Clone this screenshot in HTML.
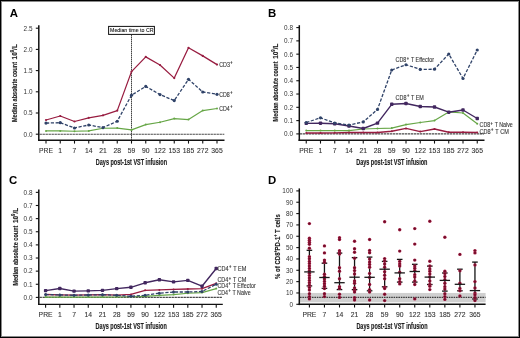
<!DOCTYPE html><html><head><meta charset="utf-8"><style>html,body{margin:0;padding:0;background:#fff}svg{display:block;will-change:transform}text{font-family:"Liberation Sans", sans-serif}</style></head><body>
<svg width="520" height="338" viewBox="0 0 520 338">
<defs><radialGradient id="dg"><stop offset="0" stop-color="#5e0a22"/><stop offset="0.6" stop-color="#861333"/><stop offset="1" stop-color="#ad2149"/></radialGradient></defs>
<rect x="0" y="0" width="520" height="338" fill="#fff"/>
<text x="9.7" y="17.2" font-size="11.4" text-anchor="start" fill="#000" font-weight="bold">A</text>
<text x="267.9" y="17.2" font-size="11.4" text-anchor="start" fill="#000" font-weight="bold">B</text>
<text x="9" y="184" font-size="11.4" text-anchor="start" fill="#000" font-weight="bold">C</text>
<text x="267.9" y="184" font-size="11.4" text-anchor="start" fill="#000" font-weight="bold">D</text>
<line x1="39.5" y1="134.2" x2="224.3" y2="134.2" stroke="#4a4a4a" stroke-width="1.1" stroke-dasharray="2.4 0.6"/>
<line x1="38.8" y1="25.3" x2="38.8" y2="140.9" stroke="#111" stroke-width="1.5"/>
<line x1="38.05" y1="140.2" x2="224.5" y2="140.2" stroke="#111" stroke-width="1.4"/>
<line x1="35.8" y1="134.2" x2="38.8" y2="134.2" stroke="#111" stroke-width="1.1"/>
<text x="32.5" y="136.55" font-size="6.4" text-anchor="end" fill="#333" font-weight="normal">0.0</text>
<line x1="35.8" y1="113" x2="38.8" y2="113" stroke="#111" stroke-width="1.1"/>
<text x="32.5" y="115.35" font-size="6.4" text-anchor="end" fill="#333" font-weight="normal">0.5</text>
<line x1="35.8" y1="91.8" x2="38.8" y2="91.8" stroke="#111" stroke-width="1.1"/>
<text x="32.5" y="94.15" font-size="6.4" text-anchor="end" fill="#333" font-weight="normal">1.0</text>
<line x1="35.8" y1="70.6" x2="38.8" y2="70.6" stroke="#111" stroke-width="1.1"/>
<text x="32.5" y="72.95" font-size="6.4" text-anchor="end" fill="#333" font-weight="normal">1.5</text>
<line x1="35.8" y1="49.4" x2="38.8" y2="49.4" stroke="#111" stroke-width="1.1"/>
<text x="32.5" y="51.75" font-size="6.4" text-anchor="end" fill="#333" font-weight="normal">2.0</text>
<line x1="35.8" y1="28.2" x2="38.8" y2="28.2" stroke="#111" stroke-width="1.1"/>
<text x="32.5" y="30.55" font-size="6.4" text-anchor="end" fill="#333" font-weight="normal">2.5</text>
<line x1="46" y1="140.2" x2="46" y2="143.6" stroke="#111" stroke-width="1.1"/>
<text x="46" y="152.9" font-size="6.8" text-anchor="middle" fill="#333" font-weight="normal" stroke="#333" stroke-width="0.1">PRE</text>
<line x1="60.25" y1="140.2" x2="60.25" y2="143.6" stroke="#111" stroke-width="1.1"/>
<text x="60.25" y="152.9" font-size="6.8" text-anchor="middle" fill="#333" font-weight="normal" stroke="#333" stroke-width="0.1">1</text>
<line x1="74.5" y1="140.2" x2="74.5" y2="143.6" stroke="#111" stroke-width="1.1"/>
<text x="74.5" y="152.9" font-size="6.8" text-anchor="middle" fill="#333" font-weight="normal" stroke="#333" stroke-width="0.1">7</text>
<line x1="88.75" y1="140.2" x2="88.75" y2="143.6" stroke="#111" stroke-width="1.1"/>
<text x="88.75" y="152.9" font-size="6.8" text-anchor="middle" fill="#333" font-weight="normal" stroke="#333" stroke-width="0.1">14</text>
<line x1="103" y1="140.2" x2="103" y2="143.6" stroke="#111" stroke-width="1.1"/>
<text x="103" y="152.9" font-size="6.8" text-anchor="middle" fill="#333" font-weight="normal" stroke="#333" stroke-width="0.1">21</text>
<line x1="117.25" y1="140.2" x2="117.25" y2="143.6" stroke="#111" stroke-width="1.1"/>
<text x="117.25" y="152.9" font-size="6.8" text-anchor="middle" fill="#333" font-weight="normal" stroke="#333" stroke-width="0.1">28</text>
<line x1="131.5" y1="140.2" x2="131.5" y2="143.6" stroke="#111" stroke-width="1.1"/>
<text x="131.5" y="152.9" font-size="6.8" text-anchor="middle" fill="#333" font-weight="normal" stroke="#333" stroke-width="0.1">59</text>
<line x1="145.75" y1="140.2" x2="145.75" y2="143.6" stroke="#111" stroke-width="1.1"/>
<text x="145.75" y="152.9" font-size="6.8" text-anchor="middle" fill="#333" font-weight="normal" stroke="#333" stroke-width="0.1">90</text>
<line x1="160" y1="140.2" x2="160" y2="143.6" stroke="#111" stroke-width="1.1"/>
<text x="160" y="152.9" font-size="6.8" text-anchor="middle" fill="#333" font-weight="normal" stroke="#333" stroke-width="0.1">122</text>
<line x1="174.25" y1="140.2" x2="174.25" y2="143.6" stroke="#111" stroke-width="1.1"/>
<text x="174.25" y="152.9" font-size="6.8" text-anchor="middle" fill="#333" font-weight="normal" stroke="#333" stroke-width="0.1">153</text>
<line x1="188.5" y1="140.2" x2="188.5" y2="143.6" stroke="#111" stroke-width="1.1"/>
<text x="188.5" y="152.9" font-size="6.8" text-anchor="middle" fill="#333" font-weight="normal" stroke="#333" stroke-width="0.1">185</text>
<line x1="202.75" y1="140.2" x2="202.75" y2="143.6" stroke="#111" stroke-width="1.1"/>
<text x="202.75" y="152.9" font-size="6.8" text-anchor="middle" fill="#333" font-weight="normal" stroke="#333" stroke-width="0.1">272</text>
<line x1="217" y1="140.2" x2="217" y2="143.6" stroke="#111" stroke-width="1.1"/>
<text x="217" y="152.9" font-size="6.8" text-anchor="middle" fill="#333" font-weight="normal" stroke="#333" stroke-width="0.1">365</text>
<text x="95.8" y="164.8" font-size="8.6" text-anchor="start" fill="#1c1c1c" font-weight="bold" textLength="71.2" lengthAdjust="spacingAndGlyphs" stroke="#1c1c1c" stroke-width="0.15">Days post-1st VST infusion</text>
<text transform="translate(17.4,122) rotate(-90)" x="0" y="0" font-size="7.3" fill="#1c1c1c" font-weight="bold" textLength="60" lengthAdjust="spacingAndGlyphs" stroke="#1c1c1c" stroke-width="0.15">Median absolute count</text>
<text transform="translate(17.4,59.4) rotate(-90)" x="0" y="0" font-size="7.3" fill="#1c1c1c" font-weight="bold" textLength="15.2" lengthAdjust="spacingAndGlyphs" stroke="#1c1c1c" stroke-width="0.15">10<tspan font-size="5" dy="-3">9</tspan><tspan dy="3">/L</tspan></text>
<line x1="131.5" y1="34.5" x2="131.5" y2="140.5" stroke="#3a3a3a" stroke-width="0.95" stroke-dasharray="1.5 0.5"/>
<rect x="108.6" y="26.4" width="45.8" height="8" fill="#fff" stroke="#111" stroke-width="1"/>
<text x="110" y="31.9" font-size="5.9" text-anchor="start" fill="#1c1c1c" font-weight="normal" textLength="43.5" lengthAdjust="spacingAndGlyphs" stroke="#1c1c1c" stroke-width="0.12">Median time to CR</text>
<polyline points="46,130.9 60.25,130.9 74.5,131.2 88.75,130.9 103,128.3 117.25,128.1 131.5,129.9 145.75,124.6 160,122.3 174.25,118.6 188.5,119.6 202.75,110.6 217,108.5" fill="none" stroke="#66a646" stroke-width="1.15" stroke-linejoin="round"/>
<circle cx="46" cy="130.9" r="1.0" fill="#66a646"/>
<circle cx="60.25" cy="130.9" r="1.0" fill="#66a646"/>
<circle cx="74.5" cy="131.2" r="1.0" fill="#66a646"/>
<circle cx="88.75" cy="130.9" r="1.0" fill="#66a646"/>
<circle cx="103" cy="128.3" r="1.0" fill="#66a646"/>
<circle cx="117.25" cy="128.1" r="1.0" fill="#66a646"/>
<circle cx="131.5" cy="129.9" r="1.0" fill="#66a646"/>
<circle cx="145.75" cy="124.6" r="1.0" fill="#66a646"/>
<circle cx="160" cy="122.3" r="1.0" fill="#66a646"/>
<circle cx="174.25" cy="118.6" r="1.0" fill="#66a646"/>
<circle cx="188.5" cy="119.6" r="1.0" fill="#66a646"/>
<circle cx="202.75" cy="110.6" r="1.0" fill="#66a646"/>
<circle cx="217" cy="108.5" r="1.0" fill="#66a646"/>
<polyline points="46,120 60.25,116 74.5,121.5 88.75,117.8 103,115.3 117.25,110.6 131.5,71.6 145.75,56.9 160,65 174.25,78.1 188.5,47.8 202.75,55.9 217,64.6" fill="none" stroke="#981c40" stroke-width="1.25" stroke-linejoin="round"/>
<circle cx="46" cy="120" r="1.1" fill="#981c40"/>
<circle cx="60.25" cy="116" r="1.1" fill="#981c40"/>
<circle cx="74.5" cy="121.5" r="1.1" fill="#981c40"/>
<circle cx="88.75" cy="117.8" r="1.1" fill="#981c40"/>
<circle cx="103" cy="115.3" r="1.1" fill="#981c40"/>
<circle cx="117.25" cy="110.6" r="1.1" fill="#981c40"/>
<circle cx="131.5" cy="71.6" r="1.1" fill="#981c40"/>
<circle cx="145.75" cy="56.9" r="1.1" fill="#981c40"/>
<circle cx="160" cy="65" r="1.1" fill="#981c40"/>
<circle cx="174.25" cy="78.1" r="1.1" fill="#981c40"/>
<circle cx="188.5" cy="47.8" r="1.1" fill="#981c40"/>
<circle cx="202.75" cy="55.9" r="1.1" fill="#981c40"/>
<circle cx="217" cy="64.6" r="1.1" fill="#981c40"/>
<polyline points="46,123.1 60.25,122.7 74.5,128 88.75,125 103,127.6 117.25,121.25 131.5,95.2 145.75,86.4 160,94.6 174.25,100.6 188.5,79.3 202.75,92 217,94.3" fill="none" stroke="#2f4268" stroke-width="1.3" stroke-linejoin="round" stroke-dasharray="3.2 1.6"/>
<circle cx="46" cy="123.1" r="1.6" fill="#2f4268"/>
<circle cx="60.25" cy="122.7" r="1.6" fill="#2f4268"/>
<circle cx="74.5" cy="128" r="1.6" fill="#2f4268"/>
<circle cx="88.75" cy="125" r="1.6" fill="#2f4268"/>
<circle cx="103" cy="127.6" r="1.6" fill="#2f4268"/>
<circle cx="117.25" cy="121.25" r="1.6" fill="#2f4268"/>
<circle cx="131.5" cy="95.2" r="1.6" fill="#2f4268"/>
<circle cx="145.75" cy="86.4" r="1.6" fill="#2f4268"/>
<circle cx="160" cy="94.6" r="1.6" fill="#2f4268"/>
<circle cx="174.25" cy="100.6" r="1.6" fill="#2f4268"/>
<circle cx="188.5" cy="79.3" r="1.6" fill="#2f4268"/>
<circle cx="202.75" cy="92" r="1.6" fill="#2f4268"/>
<circle cx="217" cy="94.3" r="1.6" fill="#2f4268"/>
<text x="219.2" y="66.7" font-size="6.3" text-anchor="start" fill="#333" font-weight="normal" textLength="13.4" lengthAdjust="spacingAndGlyphs" stroke="#333" stroke-width="0.1">CD3<tspan font-size="4.6" dy="-2.7" dx="0.5" font-weight="bold">+</tspan><tspan dy="2.7" dx="0.5"></tspan></text>
<text x="219.2" y="96.6" font-size="6.3" text-anchor="start" fill="#333" font-weight="normal" textLength="13.2" lengthAdjust="spacingAndGlyphs" stroke="#333" stroke-width="0.1">CD8<tspan font-size="4.6" dy="-2.7" dx="0.5" font-weight="bold">+</tspan><tspan dy="2.7" dx="0.5"></tspan></text>
<text x="219.2" y="110.8" font-size="6.3" text-anchor="start" fill="#333" font-weight="normal" textLength="13.2" lengthAdjust="spacingAndGlyphs" stroke="#333" stroke-width="0.1">CD4<tspan font-size="4.6" dy="-2.7" dx="0.5" font-weight="bold">+</tspan><tspan dy="2.7" dx="0.5"></tspan></text>
<line x1="300" y1="133.9" x2="484" y2="133.9" stroke="#4a4a4a" stroke-width="1.1" stroke-dasharray="2.4 0.6"/>
<line x1="299.3" y1="25.2" x2="299.3" y2="140.9" stroke="#111" stroke-width="1.5"/>
<line x1="298.55" y1="140.2" x2="484.5" y2="140.2" stroke="#111" stroke-width="1.4"/>
<line x1="296.3" y1="133.9" x2="299.3" y2="133.9" stroke="#111" stroke-width="1.1"/>
<text x="293" y="136.25" font-size="6.4" text-anchor="end" fill="#333" font-weight="normal">0.0</text>
<line x1="296.3" y1="120.61" x2="299.3" y2="120.61" stroke="#111" stroke-width="1.1"/>
<text x="293" y="122.96" font-size="6.4" text-anchor="end" fill="#333" font-weight="normal">0.1</text>
<line x1="296.3" y1="107.32" x2="299.3" y2="107.32" stroke="#111" stroke-width="1.1"/>
<text x="293" y="109.67" font-size="6.4" text-anchor="end" fill="#333" font-weight="normal">0.2</text>
<line x1="296.3" y1="94.03" x2="299.3" y2="94.03" stroke="#111" stroke-width="1.1"/>
<text x="293" y="96.38" font-size="6.4" text-anchor="end" fill="#333" font-weight="normal">0.3</text>
<line x1="296.3" y1="80.74" x2="299.3" y2="80.74" stroke="#111" stroke-width="1.1"/>
<text x="293" y="83.09" font-size="6.4" text-anchor="end" fill="#333" font-weight="normal">0.4</text>
<line x1="296.3" y1="67.45" x2="299.3" y2="67.45" stroke="#111" stroke-width="1.1"/>
<text x="293" y="69.8" font-size="6.4" text-anchor="end" fill="#333" font-weight="normal">0.5</text>
<line x1="296.3" y1="54.16" x2="299.3" y2="54.16" stroke="#111" stroke-width="1.1"/>
<text x="293" y="56.51" font-size="6.4" text-anchor="end" fill="#333" font-weight="normal">0.6</text>
<line x1="296.3" y1="40.87" x2="299.3" y2="40.87" stroke="#111" stroke-width="1.1"/>
<text x="293" y="43.22" font-size="6.4" text-anchor="end" fill="#333" font-weight="normal">0.7</text>
<line x1="296.3" y1="27.58" x2="299.3" y2="27.58" stroke="#111" stroke-width="1.1"/>
<text x="293" y="29.93" font-size="6.4" text-anchor="end" fill="#333" font-weight="normal">0.8</text>
<line x1="306.25" y1="140.2" x2="306.25" y2="143.6" stroke="#111" stroke-width="1.1"/>
<text x="306.25" y="153.2" font-size="6.8" text-anchor="middle" fill="#333" font-weight="normal" stroke="#333" stroke-width="0.1">PRE</text>
<line x1="320.5" y1="140.2" x2="320.5" y2="143.6" stroke="#111" stroke-width="1.1"/>
<text x="320.5" y="153.2" font-size="6.8" text-anchor="middle" fill="#333" font-weight="normal" stroke="#333" stroke-width="0.1">1</text>
<line x1="334.75" y1="140.2" x2="334.75" y2="143.6" stroke="#111" stroke-width="1.1"/>
<text x="334.75" y="153.2" font-size="6.8" text-anchor="middle" fill="#333" font-weight="normal" stroke="#333" stroke-width="0.1">7</text>
<line x1="349" y1="140.2" x2="349" y2="143.6" stroke="#111" stroke-width="1.1"/>
<text x="349" y="153.2" font-size="6.8" text-anchor="middle" fill="#333" font-weight="normal" stroke="#333" stroke-width="0.1">14</text>
<line x1="363.25" y1="140.2" x2="363.25" y2="143.6" stroke="#111" stroke-width="1.1"/>
<text x="363.25" y="153.2" font-size="6.8" text-anchor="middle" fill="#333" font-weight="normal" stroke="#333" stroke-width="0.1">21</text>
<line x1="377.5" y1="140.2" x2="377.5" y2="143.6" stroke="#111" stroke-width="1.1"/>
<text x="377.5" y="153.2" font-size="6.8" text-anchor="middle" fill="#333" font-weight="normal" stroke="#333" stroke-width="0.1">28</text>
<line x1="391.75" y1="140.2" x2="391.75" y2="143.6" stroke="#111" stroke-width="1.1"/>
<text x="391.75" y="153.2" font-size="6.8" text-anchor="middle" fill="#333" font-weight="normal" stroke="#333" stroke-width="0.1">59</text>
<line x1="406" y1="140.2" x2="406" y2="143.6" stroke="#111" stroke-width="1.1"/>
<text x="406" y="153.2" font-size="6.8" text-anchor="middle" fill="#333" font-weight="normal" stroke="#333" stroke-width="0.1">90</text>
<line x1="420.25" y1="140.2" x2="420.25" y2="143.6" stroke="#111" stroke-width="1.1"/>
<text x="420.25" y="153.2" font-size="6.8" text-anchor="middle" fill="#333" font-weight="normal" stroke="#333" stroke-width="0.1">122</text>
<line x1="434.5" y1="140.2" x2="434.5" y2="143.6" stroke="#111" stroke-width="1.1"/>
<text x="434.5" y="153.2" font-size="6.8" text-anchor="middle" fill="#333" font-weight="normal" stroke="#333" stroke-width="0.1">153</text>
<line x1="448.75" y1="140.2" x2="448.75" y2="143.6" stroke="#111" stroke-width="1.1"/>
<text x="448.75" y="153.2" font-size="6.8" text-anchor="middle" fill="#333" font-weight="normal" stroke="#333" stroke-width="0.1">185</text>
<line x1="463" y1="140.2" x2="463" y2="143.6" stroke="#111" stroke-width="1.1"/>
<text x="463" y="153.2" font-size="6.8" text-anchor="middle" fill="#333" font-weight="normal" stroke="#333" stroke-width="0.1">272</text>
<line x1="477.25" y1="140.2" x2="477.25" y2="143.6" stroke="#111" stroke-width="1.1"/>
<text x="477.25" y="153.2" font-size="6.8" text-anchor="middle" fill="#333" font-weight="normal" stroke="#333" stroke-width="0.1">365</text>
<text x="356.2" y="164.8" font-size="8.6" text-anchor="start" fill="#1c1c1c" font-weight="bold" textLength="71.2" lengthAdjust="spacingAndGlyphs" stroke="#1c1c1c" stroke-width="0.15">Days post-1st VST infusion</text>
<text transform="translate(277.9,121.4) rotate(-90)" x="0" y="0" font-size="7.3" fill="#1c1c1c" font-weight="bold" textLength="60" lengthAdjust="spacingAndGlyphs" stroke="#1c1c1c" stroke-width="0.15">Median absolute count</text>
<text transform="translate(277.9,58.8) rotate(-90)" x="0" y="0" font-size="7.3" fill="#1c1c1c" font-weight="bold" textLength="15.2" lengthAdjust="spacingAndGlyphs" stroke="#1c1c1c" stroke-width="0.15">10<tspan font-size="5" dy="-3">9</tspan><tspan dy="3">/L</tspan></text>
<polyline points="306.25,133 320.5,133 334.75,132.8 349,132.5 363.25,132.5 377.5,132.5 391.75,131.25 406,128.4 420.25,131.6 434.5,129 448.75,132.25 463,132.25 477.25,132.5" fill="none" stroke="#981c40" stroke-width="1.3" stroke-linejoin="round"/>
<circle cx="306.25" cy="133" r="1.0" fill="#981c40"/>
<circle cx="320.5" cy="133" r="1.0" fill="#981c40"/>
<circle cx="334.75" cy="132.8" r="1.0" fill="#981c40"/>
<circle cx="349" cy="132.5" r="1.0" fill="#981c40"/>
<circle cx="363.25" cy="132.5" r="1.0" fill="#981c40"/>
<circle cx="377.5" cy="132.5" r="1.0" fill="#981c40"/>
<circle cx="391.75" cy="131.25" r="1.0" fill="#981c40"/>
<circle cx="406" cy="128.4" r="1.0" fill="#981c40"/>
<circle cx="420.25" cy="131.6" r="1.0" fill="#981c40"/>
<circle cx="434.5" cy="129" r="1.0" fill="#981c40"/>
<circle cx="448.75" cy="132.25" r="1.0" fill="#981c40"/>
<circle cx="463" cy="132.25" r="1.0" fill="#981c40"/>
<circle cx="477.25" cy="132.5" r="1.0" fill="#981c40"/>
<polyline points="306.25,130.6 320.5,130.6 334.75,130.6 349,130.6 363.25,129 377.5,128.5 391.75,128.1 406,124.6 420.25,122.5 434.5,120.6 448.75,111.9 463,113 477.25,123.75" fill="none" stroke="#66a646" stroke-width="1.15" stroke-linejoin="round"/>
<circle cx="306.25" cy="130.6" r="1.0" fill="#66a646"/>
<circle cx="320.5" cy="130.6" r="1.0" fill="#66a646"/>
<circle cx="334.75" cy="130.6" r="1.0" fill="#66a646"/>
<circle cx="349" cy="130.6" r="1.0" fill="#66a646"/>
<circle cx="363.25" cy="129" r="1.0" fill="#66a646"/>
<circle cx="377.5" cy="128.5" r="1.0" fill="#66a646"/>
<circle cx="391.75" cy="128.1" r="1.0" fill="#66a646"/>
<circle cx="406" cy="124.6" r="1.0" fill="#66a646"/>
<circle cx="420.25" cy="122.5" r="1.0" fill="#66a646"/>
<circle cx="434.5" cy="120.6" r="1.0" fill="#66a646"/>
<circle cx="448.75" cy="111.9" r="1.0" fill="#66a646"/>
<circle cx="463" cy="113" r="1.0" fill="#66a646"/>
<circle cx="477.25" cy="123.75" r="1.0" fill="#66a646"/>
<polyline points="306.25,123.4 320.5,123.2 334.75,123.75 349,126 363.25,128.5 377.5,123.1 391.75,104.3 406,103.5 420.25,106.5 434.5,107 448.75,112.2 463,110 477.25,118.5" fill="none" stroke="#42275f" stroke-width="1.4" stroke-linejoin="round"/>
<rect x="304.55" y="121.7" width="3.4" height="3.4" rx="0.8" fill="#42275f"/>
<rect x="318.8" y="121.5" width="3.4" height="3.4" rx="0.8" fill="#42275f"/>
<rect x="333.05" y="122.05" width="3.4" height="3.4" rx="0.8" fill="#42275f"/>
<rect x="347.3" y="124.3" width="3.4" height="3.4" rx="0.8" fill="#42275f"/>
<rect x="361.55" y="126.8" width="3.4" height="3.4" rx="0.8" fill="#42275f"/>
<rect x="375.8" y="121.4" width="3.4" height="3.4" rx="0.8" fill="#42275f"/>
<rect x="390.05" y="102.6" width="3.4" height="3.4" rx="0.8" fill="#42275f"/>
<rect x="404.3" y="101.8" width="3.4" height="3.4" rx="0.8" fill="#42275f"/>
<rect x="418.55" y="104.8" width="3.4" height="3.4" rx="0.8" fill="#42275f"/>
<rect x="432.8" y="105.3" width="3.4" height="3.4" rx="0.8" fill="#42275f"/>
<rect x="447.05" y="110.5" width="3.4" height="3.4" rx="0.8" fill="#42275f"/>
<rect x="461.3" y="108.3" width="3.4" height="3.4" rx="0.8" fill="#42275f"/>
<rect x="475.55" y="116.8" width="3.4" height="3.4" rx="0.8" fill="#42275f"/>
<polyline points="306.25,122.5 320.5,117.8 334.75,123 349,125 363.25,121.9 377.5,109.4 391.75,70 406,64.75 420.25,69.4 434.5,69.2 448.75,54 463,78.5 477.25,50" fill="none" stroke="#2f4268" stroke-width="1.3" stroke-linejoin="round" stroke-dasharray="3.2 1.6"/>
<circle cx="306.25" cy="122.5" r="1.6" fill="#2f4268"/>
<circle cx="320.5" cy="117.8" r="1.6" fill="#2f4268"/>
<circle cx="334.75" cy="123" r="1.6" fill="#2f4268"/>
<circle cx="349" cy="125" r="1.6" fill="#2f4268"/>
<circle cx="363.25" cy="121.9" r="1.6" fill="#2f4268"/>
<circle cx="377.5" cy="109.4" r="1.6" fill="#2f4268"/>
<circle cx="391.75" cy="70" r="1.6" fill="#2f4268"/>
<circle cx="406" cy="64.75" r="1.6" fill="#2f4268"/>
<circle cx="420.25" cy="69.4" r="1.6" fill="#2f4268"/>
<circle cx="434.5" cy="69.2" r="1.6" fill="#2f4268"/>
<circle cx="448.75" cy="54" r="1.6" fill="#2f4268"/>
<circle cx="463" cy="78.5" r="1.6" fill="#2f4268"/>
<circle cx="477.25" cy="50" r="1.6" fill="#2f4268"/>
<text x="395.6" y="62.2" font-size="6.3" text-anchor="start" fill="#333" font-weight="normal" textLength="38.4" lengthAdjust="spacingAndGlyphs" stroke="#333" stroke-width="0.1">CD8<tspan font-size="4.6" dy="-2.7" dx="0.5" font-weight="bold">+</tspan><tspan dy="2.7" dx="0.5"> T Effector</tspan></text>
<text x="395.6" y="99.5" font-size="6.3" text-anchor="start" fill="#333" font-weight="normal" textLength="28.3" lengthAdjust="spacingAndGlyphs" stroke="#333" stroke-width="0.1">CD8<tspan font-size="4.6" dy="-2.7" dx="0.5" font-weight="bold">+</tspan><tspan dy="2.7" dx="0.5"> T EM</tspan></text>
<text x="479.6" y="127.2" font-size="6.3" text-anchor="start" fill="#333" font-weight="normal" textLength="33.2" lengthAdjust="spacingAndGlyphs" stroke="#333" stroke-width="0.1">CD8<tspan font-size="4.6" dy="-2.7" dx="0.5" font-weight="bold">+</tspan><tspan dy="2.7" dx="0.5"> T Naive</tspan></text>
<text x="479.6" y="133.5" font-size="6.3" text-anchor="start" fill="#333" font-weight="normal" textLength="29.2" lengthAdjust="spacingAndGlyphs" stroke="#333" stroke-width="0.1">CD8<tspan font-size="4.6" dy="-2.7" dx="0.5" font-weight="bold">+</tspan><tspan dy="2.7" dx="0.5"> T CM</tspan></text>
<line x1="39.5" y1="297.4" x2="222" y2="297.4" stroke="#4a4a4a" stroke-width="1.1" stroke-dasharray="2.4 0.6"/>
<line x1="38.8" y1="189.6" x2="38.8" y2="305.1" stroke="#111" stroke-width="1.5"/>
<line x1="38.05" y1="304.4" x2="222.8" y2="304.4" stroke="#111" stroke-width="1.4"/>
<line x1="35.8" y1="297.4" x2="38.8" y2="297.4" stroke="#111" stroke-width="1.1"/>
<text x="32.5" y="299.75" font-size="6.4" text-anchor="end" fill="#333" font-weight="normal">0.0</text>
<line x1="35.8" y1="284.27" x2="38.8" y2="284.27" stroke="#111" stroke-width="1.1"/>
<text x="32.5" y="286.62" font-size="6.4" text-anchor="end" fill="#333" font-weight="normal">0.1</text>
<line x1="35.8" y1="271.14" x2="38.8" y2="271.14" stroke="#111" stroke-width="1.1"/>
<text x="32.5" y="273.49" font-size="6.4" text-anchor="end" fill="#333" font-weight="normal">0.2</text>
<line x1="35.8" y1="258.01" x2="38.8" y2="258.01" stroke="#111" stroke-width="1.1"/>
<text x="32.5" y="260.36" font-size="6.4" text-anchor="end" fill="#333" font-weight="normal">0.3</text>
<line x1="35.8" y1="244.88" x2="38.8" y2="244.88" stroke="#111" stroke-width="1.1"/>
<text x="32.5" y="247.23" font-size="6.4" text-anchor="end" fill="#333" font-weight="normal">0.4</text>
<line x1="35.8" y1="231.75" x2="38.8" y2="231.75" stroke="#111" stroke-width="1.1"/>
<text x="32.5" y="234.1" font-size="6.4" text-anchor="end" fill="#333" font-weight="normal">0.5</text>
<line x1="35.8" y1="218.62" x2="38.8" y2="218.62" stroke="#111" stroke-width="1.1"/>
<text x="32.5" y="220.97" font-size="6.4" text-anchor="end" fill="#333" font-weight="normal">0.6</text>
<line x1="35.8" y1="205.49" x2="38.8" y2="205.49" stroke="#111" stroke-width="1.1"/>
<text x="32.5" y="207.84" font-size="6.4" text-anchor="end" fill="#333" font-weight="normal">0.7</text>
<line x1="35.8" y1="192.36" x2="38.8" y2="192.36" stroke="#111" stroke-width="1.1"/>
<text x="32.5" y="194.71" font-size="6.4" text-anchor="end" fill="#333" font-weight="normal">0.8</text>
<line x1="45.6" y1="304.4" x2="45.6" y2="307.8" stroke="#111" stroke-width="1.1"/>
<text x="45.6" y="317.1" font-size="6.8" text-anchor="middle" fill="#333" font-weight="normal" stroke="#333" stroke-width="0.1">PRE</text>
<line x1="59.82" y1="304.4" x2="59.82" y2="307.8" stroke="#111" stroke-width="1.1"/>
<text x="59.82" y="317.1" font-size="6.8" text-anchor="middle" fill="#333" font-weight="normal" stroke="#333" stroke-width="0.1">1</text>
<line x1="74.04" y1="304.4" x2="74.04" y2="307.8" stroke="#111" stroke-width="1.1"/>
<text x="74.04" y="317.1" font-size="6.8" text-anchor="middle" fill="#333" font-weight="normal" stroke="#333" stroke-width="0.1">7</text>
<line x1="88.26" y1="304.4" x2="88.26" y2="307.8" stroke="#111" stroke-width="1.1"/>
<text x="88.26" y="317.1" font-size="6.8" text-anchor="middle" fill="#333" font-weight="normal" stroke="#333" stroke-width="0.1">14</text>
<line x1="102.48" y1="304.4" x2="102.48" y2="307.8" stroke="#111" stroke-width="1.1"/>
<text x="102.48" y="317.1" font-size="6.8" text-anchor="middle" fill="#333" font-weight="normal" stroke="#333" stroke-width="0.1">21</text>
<line x1="116.7" y1="304.4" x2="116.7" y2="307.8" stroke="#111" stroke-width="1.1"/>
<text x="116.7" y="317.1" font-size="6.8" text-anchor="middle" fill="#333" font-weight="normal" stroke="#333" stroke-width="0.1">28</text>
<line x1="130.92" y1="304.4" x2="130.92" y2="307.8" stroke="#111" stroke-width="1.1"/>
<text x="130.92" y="317.1" font-size="6.8" text-anchor="middle" fill="#333" font-weight="normal" stroke="#333" stroke-width="0.1">59</text>
<line x1="145.14" y1="304.4" x2="145.14" y2="307.8" stroke="#111" stroke-width="1.1"/>
<text x="145.14" y="317.1" font-size="6.8" text-anchor="middle" fill="#333" font-weight="normal" stroke="#333" stroke-width="0.1">90</text>
<line x1="159.36" y1="304.4" x2="159.36" y2="307.8" stroke="#111" stroke-width="1.1"/>
<text x="159.36" y="317.1" font-size="6.8" text-anchor="middle" fill="#333" font-weight="normal" stroke="#333" stroke-width="0.1">122</text>
<line x1="173.58" y1="304.4" x2="173.58" y2="307.8" stroke="#111" stroke-width="1.1"/>
<text x="173.58" y="317.1" font-size="6.8" text-anchor="middle" fill="#333" font-weight="normal" stroke="#333" stroke-width="0.1">153</text>
<line x1="187.8" y1="304.4" x2="187.8" y2="307.8" stroke="#111" stroke-width="1.1"/>
<text x="187.8" y="317.1" font-size="6.8" text-anchor="middle" fill="#333" font-weight="normal" stroke="#333" stroke-width="0.1">185</text>
<line x1="202.02" y1="304.4" x2="202.02" y2="307.8" stroke="#111" stroke-width="1.1"/>
<text x="202.02" y="317.1" font-size="6.8" text-anchor="middle" fill="#333" font-weight="normal" stroke="#333" stroke-width="0.1">272</text>
<line x1="216.24" y1="304.4" x2="216.24" y2="307.8" stroke="#111" stroke-width="1.1"/>
<text x="216.24" y="317.1" font-size="6.8" text-anchor="middle" fill="#333" font-weight="normal" stroke="#333" stroke-width="0.1">365</text>
<text x="95.6" y="329" font-size="8.6" text-anchor="start" fill="#1c1c1c" font-weight="bold" textLength="71.2" lengthAdjust="spacingAndGlyphs" stroke="#1c1c1c" stroke-width="0.15">Days post-1st VST infusion</text>
<text transform="translate(17.7,285.6) rotate(-90)" x="0" y="0" font-size="7.3" fill="#1c1c1c" font-weight="bold" textLength="60" lengthAdjust="spacingAndGlyphs" stroke="#1c1c1c" stroke-width="0.15">Median absolute count</text>
<text transform="translate(17.7,223) rotate(-90)" x="0" y="0" font-size="7.3" fill="#1c1c1c" font-weight="bold" textLength="15.2" lengthAdjust="spacingAndGlyphs" stroke="#1c1c1c" stroke-width="0.15">10<tspan font-size="5" dy="-3">9</tspan><tspan dy="3">/L</tspan></text>
<polyline points="45.6,297.1 59.82,297.1 74.04,297.1 88.26,297.1 102.48,297.1 116.7,297 130.92,296.8 145.14,296.4 159.36,295.4 173.58,294.6 187.8,293.3 202.02,292.6 216.24,288.6" fill="none" stroke="#66a646" stroke-width="1.15" stroke-linejoin="round"/>
<circle cx="45.6" cy="297.1" r="1.0" fill="#66a646"/>
<circle cx="59.82" cy="297.1" r="1.0" fill="#66a646"/>
<circle cx="74.04" cy="297.1" r="1.0" fill="#66a646"/>
<circle cx="88.26" cy="297.1" r="1.0" fill="#66a646"/>
<circle cx="102.48" cy="297.1" r="1.0" fill="#66a646"/>
<circle cx="116.7" cy="297" r="1.0" fill="#66a646"/>
<circle cx="130.92" cy="296.8" r="1.0" fill="#66a646"/>
<circle cx="145.14" cy="296.4" r="1.0" fill="#66a646"/>
<circle cx="159.36" cy="295.4" r="1.0" fill="#66a646"/>
<circle cx="173.58" cy="294.6" r="1.0" fill="#66a646"/>
<circle cx="187.8" cy="293.3" r="1.0" fill="#66a646"/>
<circle cx="202.02" cy="292.6" r="1.0" fill="#66a646"/>
<circle cx="216.24" cy="288.6" r="1.0" fill="#66a646"/>
<polyline points="45.6,294.5 59.82,294.8 74.04,295.2 88.26,294.9 102.48,294.6 116.7,295.2 130.92,294.4 145.14,290.3 159.36,289.9 173.58,289.4 187.8,289 202.02,288.7 216.24,283.3" fill="none" stroke="#981c40" stroke-width="1.3" stroke-linejoin="round"/>
<circle cx="45.6" cy="294.5" r="1.0" fill="#981c40"/>
<circle cx="59.82" cy="294.8" r="1.0" fill="#981c40"/>
<circle cx="74.04" cy="295.2" r="1.0" fill="#981c40"/>
<circle cx="88.26" cy="294.9" r="1.0" fill="#981c40"/>
<circle cx="102.48" cy="294.6" r="1.0" fill="#981c40"/>
<circle cx="116.7" cy="295.2" r="1.0" fill="#981c40"/>
<circle cx="130.92" cy="294.4" r="1.0" fill="#981c40"/>
<circle cx="145.14" cy="290.3" r="1.0" fill="#981c40"/>
<circle cx="159.36" cy="289.9" r="1.0" fill="#981c40"/>
<circle cx="173.58" cy="289.4" r="1.0" fill="#981c40"/>
<circle cx="187.8" cy="289" r="1.0" fill="#981c40"/>
<circle cx="202.02" cy="288.7" r="1.0" fill="#981c40"/>
<circle cx="216.24" cy="283.3" r="1.0" fill="#981c40"/>
<polyline points="45.6,294.6 59.82,294.9 74.04,295.3 88.26,295 102.48,294.7 116.7,295.3 130.92,296.3 145.14,295.3 159.36,293.2 173.58,292 187.8,292 202.02,291.5 216.24,284.2" fill="none" stroke="#2f4268" stroke-width="1.3" stroke-linejoin="round" stroke-dasharray="3.2 1.6"/>
<circle cx="45.6" cy="294.6" r="1.5" fill="#2f4268"/>
<circle cx="59.82" cy="294.9" r="1.5" fill="#2f4268"/>
<circle cx="74.04" cy="295.3" r="1.5" fill="#2f4268"/>
<circle cx="88.26" cy="295" r="1.5" fill="#2f4268"/>
<circle cx="102.48" cy="294.7" r="1.5" fill="#2f4268"/>
<circle cx="116.7" cy="295.3" r="1.5" fill="#2f4268"/>
<circle cx="130.92" cy="296.3" r="1.5" fill="#2f4268"/>
<circle cx="145.14" cy="295.3" r="1.5" fill="#2f4268"/>
<circle cx="159.36" cy="293.2" r="1.5" fill="#2f4268"/>
<circle cx="173.58" cy="292" r="1.5" fill="#2f4268"/>
<circle cx="187.8" cy="292" r="1.5" fill="#2f4268"/>
<circle cx="202.02" cy="291.5" r="1.5" fill="#2f4268"/>
<circle cx="216.24" cy="284.2" r="1.5" fill="#2f4268"/>
<polyline points="45.6,290.6 59.82,288.5 74.04,291.1 88.26,290.9 102.48,290.4 116.7,288.6 130.92,287.3 145.14,282.8 159.36,279.8 173.58,281.9 187.8,280.4 202.02,286.2 216.24,268.5" fill="none" stroke="#42275f" stroke-width="1.4" stroke-linejoin="round"/>
<rect x="43.9" y="288.9" width="3.4" height="3.4" rx="0.8" fill="#42275f"/>
<rect x="58.12" y="286.8" width="3.4" height="3.4" rx="0.8" fill="#42275f"/>
<rect x="72.34" y="289.4" width="3.4" height="3.4" rx="0.8" fill="#42275f"/>
<rect x="86.56" y="289.2" width="3.4" height="3.4" rx="0.8" fill="#42275f"/>
<rect x="100.78" y="288.7" width="3.4" height="3.4" rx="0.8" fill="#42275f"/>
<rect x="115" y="286.9" width="3.4" height="3.4" rx="0.8" fill="#42275f"/>
<rect x="129.22" y="285.6" width="3.4" height="3.4" rx="0.8" fill="#42275f"/>
<rect x="143.44" y="281.1" width="3.4" height="3.4" rx="0.8" fill="#42275f"/>
<rect x="157.66" y="278.1" width="3.4" height="3.4" rx="0.8" fill="#42275f"/>
<rect x="171.88" y="280.2" width="3.4" height="3.4" rx="0.8" fill="#42275f"/>
<rect x="186.1" y="278.7" width="3.4" height="3.4" rx="0.8" fill="#42275f"/>
<rect x="200.32" y="284.5" width="3.4" height="3.4" rx="0.8" fill="#42275f"/>
<rect x="214.54" y="266.8" width="3.4" height="3.4" rx="0.8" fill="#42275f"/>
<text x="217.4" y="270.7" font-size="6.3" text-anchor="start" fill="#333" font-weight="normal" textLength="29" lengthAdjust="spacingAndGlyphs" stroke="#333" stroke-width="0.1">CD4<tspan font-size="4.6" dy="-2.7" dx="0.5" font-weight="bold">+</tspan><tspan dy="2.7" dx="0.5"> T EM</tspan></text>
<text x="217.4" y="282.2" font-size="6.3" text-anchor="start" fill="#333" font-weight="normal" textLength="29" lengthAdjust="spacingAndGlyphs" stroke="#333" stroke-width="0.1">CD4<tspan font-size="4.6" dy="-2.7" dx="0.5" font-weight="bold">+</tspan><tspan dy="2.7" dx="0.5"> T CM</tspan></text>
<text x="217.4" y="287.8" font-size="6.3" text-anchor="start" fill="#333" font-weight="normal" textLength="38.3" lengthAdjust="spacingAndGlyphs" stroke="#333" stroke-width="0.1">CD4<tspan font-size="4.6" dy="-2.7" dx="0.5" font-weight="bold">+</tspan><tspan dy="2.7" dx="0.5"> T Effector</tspan></text>
<text x="217.4" y="294.5" font-size="6.3" text-anchor="start" fill="#333" font-weight="normal" textLength="33.3" lengthAdjust="spacingAndGlyphs" stroke="#333" stroke-width="0.1">CD4<tspan font-size="4.6" dy="-2.7" dx="0.5" font-weight="bold">+</tspan><tspan dy="2.7" dx="0.5"> T Naive</tspan></text>
<rect x="300" y="292.96" width="185.6" height="9.34" fill="#d0d0d0"/>
<line x1="300" y1="297.3" x2="485.6" y2="297.3" stroke="#1a1a1a" stroke-width="1" stroke-dasharray="1.6 0.8"/>
<line x1="299.3" y1="188.4" x2="299.3" y2="305.1" stroke="#111" stroke-width="1.5"/>
<line x1="298.6" y1="304.3" x2="485.6" y2="304.3" stroke="#111" stroke-width="1.4"/>
<line x1="296.3" y1="304.3" x2="299.3" y2="304.3" stroke="#111" stroke-width="1.1"/>
<text x="293" y="306.65" font-size="6.4" text-anchor="end" fill="#333" font-weight="normal">0</text>
<line x1="296.3" y1="292.96" x2="299.3" y2="292.96" stroke="#111" stroke-width="1.1"/>
<text x="293" y="295.31" font-size="6.4" text-anchor="end" fill="#333" font-weight="normal">10</text>
<line x1="296.3" y1="281.62" x2="299.3" y2="281.62" stroke="#111" stroke-width="1.1"/>
<text x="293" y="283.97" font-size="6.4" text-anchor="end" fill="#333" font-weight="normal">20</text>
<line x1="296.3" y1="270.28" x2="299.3" y2="270.28" stroke="#111" stroke-width="1.1"/>
<text x="293" y="272.63" font-size="6.4" text-anchor="end" fill="#333" font-weight="normal">30</text>
<line x1="296.3" y1="258.94" x2="299.3" y2="258.94" stroke="#111" stroke-width="1.1"/>
<text x="293" y="261.29" font-size="6.4" text-anchor="end" fill="#333" font-weight="normal">40</text>
<line x1="296.3" y1="247.6" x2="299.3" y2="247.6" stroke="#111" stroke-width="1.1"/>
<text x="293" y="249.95" font-size="6.4" text-anchor="end" fill="#333" font-weight="normal">50</text>
<line x1="296.3" y1="236.26" x2="299.3" y2="236.26" stroke="#111" stroke-width="1.1"/>
<text x="293" y="238.61" font-size="6.4" text-anchor="end" fill="#333" font-weight="normal">60</text>
<line x1="296.3" y1="224.92" x2="299.3" y2="224.92" stroke="#111" stroke-width="1.1"/>
<text x="293" y="227.27" font-size="6.4" text-anchor="end" fill="#333" font-weight="normal">70</text>
<line x1="296.3" y1="213.58" x2="299.3" y2="213.58" stroke="#111" stroke-width="1.1"/>
<text x="293" y="215.93" font-size="6.4" text-anchor="end" fill="#333" font-weight="normal">80</text>
<line x1="296.3" y1="202.24" x2="299.3" y2="202.24" stroke="#111" stroke-width="1.1"/>
<text x="293" y="204.59" font-size="6.4" text-anchor="end" fill="#333" font-weight="normal">90</text>
<line x1="296.3" y1="190.9" x2="299.3" y2="190.9" stroke="#111" stroke-width="1.1"/>
<text x="293" y="193.25" font-size="6.4" text-anchor="end" fill="#333" font-weight="normal">100</text>
<line x1="309.4" y1="304.3" x2="309.4" y2="307.5" stroke="#111" stroke-width="1.1"/>
<text x="309.4" y="316.6" font-size="6.8" text-anchor="middle" fill="#333" font-weight="normal" stroke="#333" stroke-width="0.1">PRE</text>
<line x1="324.45" y1="304.3" x2="324.45" y2="307.5" stroke="#111" stroke-width="1.1"/>
<text x="324.45" y="316.6" font-size="6.8" text-anchor="middle" fill="#333" font-weight="normal" stroke="#333" stroke-width="0.1">7</text>
<line x1="339.5" y1="304.3" x2="339.5" y2="307.5" stroke="#111" stroke-width="1.1"/>
<text x="339.5" y="316.6" font-size="6.8" text-anchor="middle" fill="#333" font-weight="normal" stroke="#333" stroke-width="0.1">14</text>
<line x1="354.55" y1="304.3" x2="354.55" y2="307.5" stroke="#111" stroke-width="1.1"/>
<text x="354.55" y="316.6" font-size="6.8" text-anchor="middle" fill="#333" font-weight="normal" stroke="#333" stroke-width="0.1">21</text>
<line x1="369.6" y1="304.3" x2="369.6" y2="307.5" stroke="#111" stroke-width="1.1"/>
<text x="369.6" y="316.6" font-size="6.8" text-anchor="middle" fill="#333" font-weight="normal" stroke="#333" stroke-width="0.1">28</text>
<line x1="384.65" y1="304.3" x2="384.65" y2="307.5" stroke="#111" stroke-width="1.1"/>
<text x="384.65" y="316.6" font-size="6.8" text-anchor="middle" fill="#333" font-weight="normal" stroke="#333" stroke-width="0.1">59</text>
<line x1="399.7" y1="304.3" x2="399.7" y2="307.5" stroke="#111" stroke-width="1.1"/>
<text x="399.7" y="316.6" font-size="6.8" text-anchor="middle" fill="#333" font-weight="normal" stroke="#333" stroke-width="0.1">90</text>
<line x1="414.75" y1="304.3" x2="414.75" y2="307.5" stroke="#111" stroke-width="1.1"/>
<text x="414.75" y="316.6" font-size="6.8" text-anchor="middle" fill="#333" font-weight="normal" stroke="#333" stroke-width="0.1">122</text>
<line x1="429.8" y1="304.3" x2="429.8" y2="307.5" stroke="#111" stroke-width="1.1"/>
<text x="429.8" y="316.6" font-size="6.8" text-anchor="middle" fill="#333" font-weight="normal" stroke="#333" stroke-width="0.1">153</text>
<line x1="444.85" y1="304.3" x2="444.85" y2="307.5" stroke="#111" stroke-width="1.1"/>
<text x="444.85" y="316.6" font-size="6.8" text-anchor="middle" fill="#333" font-weight="normal" stroke="#333" stroke-width="0.1">185</text>
<line x1="459.9" y1="304.3" x2="459.9" y2="307.5" stroke="#111" stroke-width="1.1"/>
<text x="459.9" y="316.6" font-size="6.8" text-anchor="middle" fill="#333" font-weight="normal" stroke="#333" stroke-width="0.1">272</text>
<line x1="474.95" y1="304.3" x2="474.95" y2="307.5" stroke="#111" stroke-width="1.1"/>
<text x="474.95" y="316.6" font-size="6.8" text-anchor="middle" fill="#333" font-weight="normal" stroke="#333" stroke-width="0.1">365</text>
<text x="356.4" y="329.1" font-size="8.6" text-anchor="start" fill="#1c1c1c" font-weight="bold" textLength="71.2" lengthAdjust="spacingAndGlyphs" stroke="#1c1c1c" stroke-width="0.15">Days post-1st VST infusion</text>
<text transform="translate(279.6,278.9) rotate(-90)" x="0" y="0" font-size="7.8" fill="#1c1c1c" font-weight="bold" textLength="64.7" lengthAdjust="spacingAndGlyphs" stroke="#1c1c1c" stroke-width="0.15">% of CD8<tspan font-size="4.6" dy="-2.8">+</tspan><tspan dy="2.8">PD-1</tspan><tspan font-size="4.6" dy="-2.8">+</tspan><tspan dy="2.8"> T cells</tspan></text>
<line x1="309.4" y1="250.3" x2="309.4" y2="285.9" stroke="#141414" stroke-width="1.3"/>
<line x1="306.6" y1="250.3" x2="312.2" y2="250.3" stroke="#141414" stroke-width="1.3"/>
<line x1="306.6" y1="285.9" x2="312.2" y2="285.9" stroke="#141414" stroke-width="1.3"/>
<circle cx="309.4" cy="223.6" r="1.72" fill="url(#dg)"/>
<circle cx="309.4" cy="238.2" r="1.72" fill="url(#dg)"/>
<circle cx="309.4" cy="240.2" r="1.72" fill="url(#dg)"/>
<circle cx="309.4" cy="242.3" r="1.72" fill="url(#dg)"/>
<circle cx="309.4" cy="244.2" r="1.72" fill="url(#dg)"/>
<circle cx="309.4" cy="248.2" r="1.72" fill="url(#dg)"/>
<circle cx="309.4" cy="256.8" r="1.72" fill="url(#dg)"/>
<circle cx="309.4" cy="258.8" r="1.72" fill="url(#dg)"/>
<circle cx="309.4" cy="261.4" r="1.72" fill="url(#dg)"/>
<circle cx="309.4" cy="263.5" r="1.72" fill="url(#dg)"/>
<circle cx="309.4" cy="266" r="1.72" fill="url(#dg)"/>
<circle cx="309.4" cy="268.4" r="1.72" fill="url(#dg)"/>
<circle cx="309.4" cy="270.8" r="1.72" fill="url(#dg)"/>
<circle cx="309.4" cy="273.2" r="1.72" fill="url(#dg)"/>
<circle cx="309.4" cy="275.6" r="1.72" fill="url(#dg)"/>
<circle cx="309.4" cy="278" r="1.72" fill="url(#dg)"/>
<circle cx="309.4" cy="280.4" r="1.72" fill="url(#dg)"/>
<circle cx="309.4" cy="282.8" r="1.72" fill="url(#dg)"/>
<circle cx="309.4" cy="285.2" r="1.72" fill="url(#dg)"/>
<circle cx="309.4" cy="287.6" r="1.72" fill="url(#dg)"/>
<circle cx="309.4" cy="290" r="1.72" fill="url(#dg)"/>
<circle cx="309.4" cy="293.7" r="1.72" fill="url(#dg)"/>
<circle cx="309.4" cy="296.6" r="1.72" fill="url(#dg)"/>
<circle cx="309.4" cy="298.9" r="1.72" fill="url(#dg)"/>
<line x1="304.2" y1="271.9" x2="314.6" y2="271.9" stroke="#1a1a1a" stroke-width="1.3"/>
<line x1="324.45" y1="263.2" x2="324.45" y2="288.4" stroke="#141414" stroke-width="1.3"/>
<line x1="321.65" y1="263.2" x2="327.25" y2="263.2" stroke="#141414" stroke-width="1.3"/>
<line x1="321.65" y1="288.4" x2="327.25" y2="288.4" stroke="#141414" stroke-width="1.3"/>
<circle cx="324.45" cy="245.9" r="1.72" fill="url(#dg)"/>
<circle cx="324.45" cy="252.9" r="1.72" fill="url(#dg)"/>
<circle cx="324.45" cy="260.1" r="1.72" fill="url(#dg)"/>
<circle cx="324.45" cy="262.2" r="1.72" fill="url(#dg)"/>
<circle cx="324.45" cy="274.2" r="1.72" fill="url(#dg)"/>
<circle cx="324.45" cy="276.6" r="1.72" fill="url(#dg)"/>
<circle cx="324.45" cy="279" r="1.72" fill="url(#dg)"/>
<circle cx="324.45" cy="281.4" r="1.72" fill="url(#dg)"/>
<circle cx="324.45" cy="283.8" r="1.72" fill="url(#dg)"/>
<circle cx="324.45" cy="286.2" r="1.72" fill="url(#dg)"/>
<circle cx="324.45" cy="288.6" r="1.72" fill="url(#dg)"/>
<circle cx="324.45" cy="293.7" r="1.72" fill="url(#dg)"/>
<circle cx="324.45" cy="296.6" r="1.72" fill="url(#dg)"/>
<line x1="319.25" y1="277.5" x2="329.65" y2="277.5" stroke="#1a1a1a" stroke-width="1.3"/>
<line x1="339.5" y1="253.1" x2="339.5" y2="289.6" stroke="#141414" stroke-width="1.3"/>
<line x1="336.7" y1="253.1" x2="342.3" y2="253.1" stroke="#141414" stroke-width="1.3"/>
<line x1="336.7" y1="289.6" x2="342.3" y2="289.6" stroke="#141414" stroke-width="1.3"/>
<circle cx="339.5" cy="237.8" r="1.72" fill="url(#dg)"/>
<circle cx="339.5" cy="239.5" r="1.72" fill="url(#dg)"/>
<circle cx="339.5" cy="250.8" r="1.72" fill="url(#dg)"/>
<circle cx="339.5" cy="252.5" r="1.72" fill="url(#dg)"/>
<circle cx="339.5" cy="254" r="1.72" fill="url(#dg)"/>
<circle cx="339.5" cy="267.7" r="1.72" fill="url(#dg)"/>
<circle cx="339.5" cy="271.2" r="1.72" fill="url(#dg)"/>
<circle cx="339.5" cy="278.7" r="1.72" fill="url(#dg)"/>
<circle cx="339.5" cy="286.8" r="1.72" fill="url(#dg)"/>
<circle cx="339.5" cy="288.5" r="1.72" fill="url(#dg)"/>
<circle cx="339.5" cy="294.3" r="1.72" fill="url(#dg)"/>
<circle cx="339.5" cy="297.4" r="1.72" fill="url(#dg)"/>
<line x1="334.3" y1="282.7" x2="344.7" y2="282.7" stroke="#1a1a1a" stroke-width="1.3"/>
<line x1="354.55" y1="257.6" x2="354.55" y2="289.6" stroke="#141414" stroke-width="1.3"/>
<line x1="351.75" y1="257.6" x2="357.35" y2="257.6" stroke="#141414" stroke-width="1.3"/>
<line x1="351.75" y1="289.6" x2="357.35" y2="289.6" stroke="#141414" stroke-width="1.3"/>
<circle cx="354.55" cy="241.3" r="1.72" fill="url(#dg)"/>
<circle cx="354.55" cy="248.8" r="1.72" fill="url(#dg)"/>
<circle cx="354.55" cy="252.3" r="1.72" fill="url(#dg)"/>
<circle cx="354.55" cy="258.3" r="1.72" fill="url(#dg)"/>
<circle cx="354.55" cy="267.7" r="1.72" fill="url(#dg)"/>
<circle cx="354.55" cy="270.6" r="1.72" fill="url(#dg)"/>
<circle cx="354.55" cy="274" r="1.72" fill="url(#dg)"/>
<circle cx="354.55" cy="281" r="1.72" fill="url(#dg)"/>
<circle cx="354.55" cy="283.3" r="1.72" fill="url(#dg)"/>
<circle cx="354.55" cy="287.9" r="1.72" fill="url(#dg)"/>
<circle cx="354.55" cy="290.2" r="1.72" fill="url(#dg)"/>
<circle cx="354.55" cy="292" r="1.72" fill="url(#dg)"/>
<circle cx="354.55" cy="297.7" r="1.72" fill="url(#dg)"/>
<circle cx="354.55" cy="300" r="1.72" fill="url(#dg)"/>
<line x1="349.35" y1="277.2" x2="359.75" y2="277.2" stroke="#1a1a1a" stroke-width="1.3"/>
<line x1="369.6" y1="257.1" x2="369.6" y2="290.8" stroke="#141414" stroke-width="1.3"/>
<line x1="366.8" y1="257.1" x2="372.4" y2="257.1" stroke="#141414" stroke-width="1.3"/>
<line x1="366.8" y1="290.8" x2="372.4" y2="290.8" stroke="#141414" stroke-width="1.3"/>
<circle cx="369.6" cy="239.5" r="1.72" fill="url(#dg)"/>
<circle cx="369.6" cy="250.5" r="1.72" fill="url(#dg)"/>
<circle cx="369.6" cy="252.8" r="1.72" fill="url(#dg)"/>
<circle cx="369.6" cy="259.1" r="1.72" fill="url(#dg)"/>
<circle cx="369.6" cy="262" r="1.72" fill="url(#dg)"/>
<circle cx="369.6" cy="264.5" r="1.72" fill="url(#dg)"/>
<circle cx="369.6" cy="267.2" r="1.72" fill="url(#dg)"/>
<circle cx="369.6" cy="273.5" r="1.72" fill="url(#dg)"/>
<circle cx="369.6" cy="277.5" r="1.72" fill="url(#dg)"/>
<circle cx="369.6" cy="284.5" r="1.72" fill="url(#dg)"/>
<circle cx="369.6" cy="289.6" r="1.72" fill="url(#dg)"/>
<circle cx="369.6" cy="292" r="1.72" fill="url(#dg)"/>
<circle cx="369.6" cy="300" r="1.72" fill="url(#dg)"/>
<line x1="364.4" y1="277.3" x2="374.8" y2="277.3" stroke="#1a1a1a" stroke-width="1.3"/>
<line x1="384.65" y1="261.4" x2="384.65" y2="286.8" stroke="#141414" stroke-width="1.3"/>
<line x1="381.85" y1="261.4" x2="387.45" y2="261.4" stroke="#141414" stroke-width="1.3"/>
<line x1="381.85" y1="286.8" x2="387.45" y2="286.8" stroke="#141414" stroke-width="1.3"/>
<circle cx="384.65" cy="221.7" r="1.72" fill="url(#dg)"/>
<circle cx="384.65" cy="258.6" r="1.72" fill="url(#dg)"/>
<circle cx="384.65" cy="260.9" r="1.72" fill="url(#dg)"/>
<circle cx="384.65" cy="264" r="1.72" fill="url(#dg)"/>
<circle cx="384.65" cy="267.2" r="1.72" fill="url(#dg)"/>
<circle cx="384.65" cy="271.8" r="1.72" fill="url(#dg)"/>
<circle cx="384.65" cy="275.2" r="1.72" fill="url(#dg)"/>
<circle cx="384.65" cy="278.7" r="1.72" fill="url(#dg)"/>
<circle cx="384.65" cy="287.3" r="1.72" fill="url(#dg)"/>
<circle cx="384.65" cy="288.5" r="1.72" fill="url(#dg)"/>
<circle cx="384.65" cy="294.3" r="1.72" fill="url(#dg)"/>
<circle cx="384.65" cy="300.6" r="1.72" fill="url(#dg)"/>
<line x1="379.45" y1="269.2" x2="389.85" y2="269.2" stroke="#1a1a1a" stroke-width="1.3"/>
<line x1="399.7" y1="259.4" x2="399.7" y2="282.1" stroke="#141414" stroke-width="1.3"/>
<line x1="396.9" y1="259.4" x2="402.5" y2="259.4" stroke="#141414" stroke-width="1.3"/>
<line x1="396.9" y1="282.1" x2="402.5" y2="282.1" stroke="#141414" stroke-width="1.3"/>
<circle cx="399.7" cy="229.7" r="1.72" fill="url(#dg)"/>
<circle cx="399.7" cy="251.1" r="1.72" fill="url(#dg)"/>
<circle cx="399.7" cy="261.4" r="1.72" fill="url(#dg)"/>
<circle cx="399.7" cy="264" r="1.72" fill="url(#dg)"/>
<circle cx="399.7" cy="266" r="1.72" fill="url(#dg)"/>
<circle cx="399.7" cy="272.3" r="1.72" fill="url(#dg)"/>
<circle cx="399.7" cy="278.7" r="1.72" fill="url(#dg)"/>
<circle cx="399.7" cy="281.6" r="1.72" fill="url(#dg)"/>
<circle cx="399.7" cy="283.9" r="1.72" fill="url(#dg)"/>
<line x1="394.5" y1="272.9" x2="404.9" y2="272.9" stroke="#1a1a1a" stroke-width="1.3"/>
<line x1="414.75" y1="264.3" x2="414.75" y2="282.1" stroke="#141414" stroke-width="1.3"/>
<line x1="411.95" y1="264.3" x2="417.55" y2="264.3" stroke="#141414" stroke-width="1.3"/>
<line x1="411.95" y1="282.1" x2="417.55" y2="282.1" stroke="#141414" stroke-width="1.3"/>
<circle cx="414.75" cy="228.6" r="1.72" fill="url(#dg)"/>
<circle cx="414.75" cy="244.1" r="1.72" fill="url(#dg)"/>
<circle cx="414.75" cy="260.1" r="1.72" fill="url(#dg)"/>
<circle cx="414.75" cy="266" r="1.72" fill="url(#dg)"/>
<circle cx="414.75" cy="268.3" r="1.72" fill="url(#dg)"/>
<circle cx="414.75" cy="270.6" r="1.72" fill="url(#dg)"/>
<circle cx="414.75" cy="274.7" r="1.72" fill="url(#dg)"/>
<circle cx="414.75" cy="277" r="1.72" fill="url(#dg)"/>
<circle cx="414.75" cy="281" r="1.72" fill="url(#dg)"/>
<circle cx="414.75" cy="284.5" r="1.72" fill="url(#dg)"/>
<circle cx="414.75" cy="298.9" r="1.72" fill="url(#dg)"/>
<line x1="409.55" y1="271.5" x2="419.95" y2="271.5" stroke="#1a1a1a" stroke-width="1.3"/>
<line x1="429.8" y1="266.1" x2="429.8" y2="284.5" stroke="#141414" stroke-width="1.3"/>
<line x1="427" y1="266.1" x2="432.6" y2="266.1" stroke="#141414" stroke-width="1.3"/>
<line x1="427" y1="284.5" x2="432.6" y2="284.5" stroke="#141414" stroke-width="1.3"/>
<circle cx="429.8" cy="221.2" r="1.72" fill="url(#dg)"/>
<circle cx="429.8" cy="261.3" r="1.72" fill="url(#dg)"/>
<circle cx="429.8" cy="266" r="1.72" fill="url(#dg)"/>
<circle cx="429.8" cy="269" r="1.72" fill="url(#dg)"/>
<circle cx="429.8" cy="271.3" r="1.72" fill="url(#dg)"/>
<circle cx="429.8" cy="274" r="1.72" fill="url(#dg)"/>
<circle cx="429.8" cy="277" r="1.72" fill="url(#dg)"/>
<circle cx="429.8" cy="281" r="1.72" fill="url(#dg)"/>
<circle cx="429.8" cy="284.5" r="1.72" fill="url(#dg)"/>
<circle cx="429.8" cy="286.2" r="1.72" fill="url(#dg)"/>
<circle cx="429.8" cy="289.6" r="1.72" fill="url(#dg)"/>
<line x1="424.6" y1="277.1" x2="435" y2="277.1" stroke="#1a1a1a" stroke-width="1.3"/>
<line x1="444.85" y1="273" x2="444.85" y2="291.1" stroke="#141414" stroke-width="1.3"/>
<line x1="442.05" y1="273" x2="447.65" y2="273" stroke="#141414" stroke-width="1.3"/>
<line x1="442.05" y1="291.1" x2="447.65" y2="291.1" stroke="#141414" stroke-width="1.3"/>
<circle cx="444.85" cy="237.2" r="1.72" fill="url(#dg)"/>
<circle cx="444.85" cy="271.3" r="1.72" fill="url(#dg)"/>
<circle cx="444.85" cy="273.6" r="1.72" fill="url(#dg)"/>
<circle cx="444.85" cy="276.5" r="1.72" fill="url(#dg)"/>
<circle cx="444.85" cy="279.8" r="1.72" fill="url(#dg)"/>
<circle cx="444.85" cy="283.3" r="1.72" fill="url(#dg)"/>
<circle cx="444.85" cy="286.8" r="1.72" fill="url(#dg)"/>
<circle cx="444.85" cy="289.1" r="1.72" fill="url(#dg)"/>
<circle cx="444.85" cy="293.7" r="1.72" fill="url(#dg)"/>
<circle cx="444.85" cy="296.6" r="1.72" fill="url(#dg)"/>
<circle cx="444.85" cy="299.4" r="1.72" fill="url(#dg)"/>
<line x1="439.65" y1="280.4" x2="450.05" y2="280.4" stroke="#1a1a1a" stroke-width="1.3"/>
<line x1="459.9" y1="269.2" x2="459.9" y2="290.8" stroke="#141414" stroke-width="1.3"/>
<line x1="457.1" y1="269.2" x2="462.7" y2="269.2" stroke="#141414" stroke-width="1.3"/>
<line x1="457.1" y1="290.8" x2="462.7" y2="290.8" stroke="#141414" stroke-width="1.3"/>
<circle cx="459.9" cy="254.4" r="1.72" fill="url(#dg)"/>
<circle cx="459.9" cy="270.8" r="1.72" fill="url(#dg)"/>
<circle cx="459.9" cy="283.3" r="1.72" fill="url(#dg)"/>
<circle cx="459.9" cy="288.4" r="1.72" fill="url(#dg)"/>
<circle cx="459.9" cy="290.8" r="1.72" fill="url(#dg)"/>
<circle cx="459.9" cy="296" r="1.72" fill="url(#dg)"/>
<line x1="454.7" y1="284.3" x2="465.1" y2="284.3" stroke="#1a1a1a" stroke-width="1.3"/>
<line x1="474.95" y1="262.1" x2="474.95" y2="299" stroke="#141414" stroke-width="1.3"/>
<line x1="472.15" y1="262.1" x2="477.75" y2="262.1" stroke="#141414" stroke-width="1.3"/>
<line x1="472.15" y1="299" x2="477.75" y2="299" stroke="#141414" stroke-width="1.3"/>
<circle cx="474.95" cy="250.6" r="1.72" fill="url(#dg)"/>
<circle cx="474.95" cy="252.9" r="1.72" fill="url(#dg)"/>
<circle cx="474.95" cy="265" r="1.72" fill="url(#dg)"/>
<circle cx="474.95" cy="281.6" r="1.72" fill="url(#dg)"/>
<circle cx="474.95" cy="287.9" r="1.72" fill="url(#dg)"/>
<circle cx="474.95" cy="293.1" r="1.72" fill="url(#dg)"/>
<circle cx="474.95" cy="294.8" r="1.72" fill="url(#dg)"/>
<circle cx="474.95" cy="297.7" r="1.72" fill="url(#dg)"/>
<circle cx="474.95" cy="300.6" r="1.72" fill="url(#dg)"/>
<line x1="469.75" y1="290.6" x2="480.15" y2="290.6" stroke="#1a1a1a" stroke-width="1.3"/>
<rect x="0.5" y="0.5" width="519" height="337" fill="none" stroke="#000" stroke-width="1"/>
<rect x="1.5" y="1.5" width="517" height="335" fill="none" stroke="#8a8a8a" stroke-width="1"/>
</svg></body></html>
